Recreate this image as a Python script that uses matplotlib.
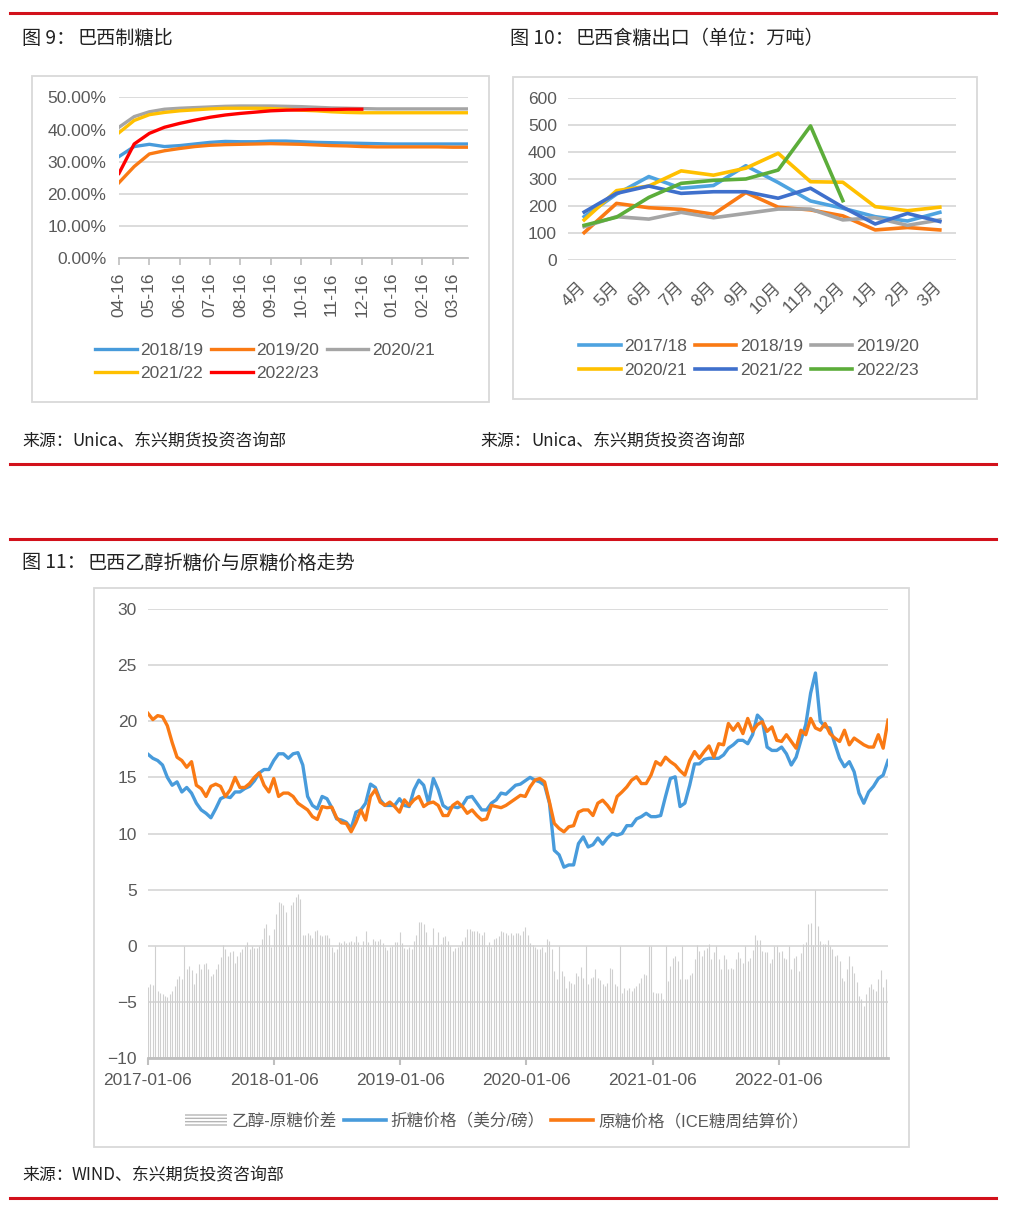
import matplotlib
matplotlib.use('Agg')
import matplotlib.pyplot as plt
from matplotlib.patches import Rectangle, Patch
from matplotlib.lines import Line2D
import pandas as pd

W, H = 1016, 1212
plt.rcParams['font.family'] = ['Liberation Sans', 'Noto Sans CJK SC', 'DejaVu Sans']

GRAY_TXT = '#595959'
GRID = '#d9d9d9'
AXIS = '#bfbfbf'

# ---- fig 9: Brazil sugar mix (%) ----
ratio_dates = ['04-16', '05-01', '05-16', '06-01', '06-16', '07-01', '07-16', '08-01',
               '08-16', '09-01', '09-16', '10-01', '10-16', '11-01', '11-16', '12-01',
               '12-16', '01-01', '01-16', '02-01', '02-16', '03-01', '03-16', '04-01']
ratio_1819 = [31.6, 34.7, 35.4, 34.7, 35.0, 35.5, 36.0, 36.3, 36.2, 36.2, 36.4, 36.4,
              36.2, 36.0, 35.9, 35.8, 35.7, 35.6, 35.5, 35.5, 35.5, 35.5, 35.5, 35.5]
ratio_1920 = [23.5, 28.5, 32.4, 33.4, 34.1, 34.7, 35.1, 35.3, 35.4, 35.5, 35.6, 35.5,
              35.4, 35.2, 35.0, 34.9, 34.7, 34.6, 34.6, 34.6, 34.6, 34.6, 34.5, 34.5]
ratio_2021 = [40.7, 44.0, 45.5, 46.3, 46.6, 46.8, 47.0, 47.2, 47.3, 47.3, 47.3, 47.2,
              47.1, 46.9, 46.7, 46.6, 46.5, 46.4, 46.4, 46.4, 46.4, 46.4, 46.4, 46.4]
ratio_2122 = [39.0, 42.8, 44.6, 45.3, 45.8, 46.1, 46.4, 46.6, 46.6, 46.6, 46.5, 46.3,
              46.0, 45.8, 45.5, 45.3, 45.2, 45.2, 45.2, 45.2, 45.2, 45.2, 45.2, 45.2]
ratio_2223 = [26.4, 35.5, 38.8, 40.7, 41.9, 42.9, 43.8, 44.5, 45.0, 45.4, 45.8, 46.0,
              46.1, 46.2, 46.2, 46.3, 46.3]

# ---- fig 10: Brazil sugar exports (10k t) ----
months = ['4月', '5月', '6月', '7月', '8月', '9月', '10月', '11月', '12月', '1月', '2月', '3月']
exp_1718 = [161, 244, 309, 266, 276, 349, 287, 219, 192, 161, 145, 177]
exp_1819 = [102, 210, 194, 188, 170, 250, 196, 186, 164, 112, 121, 112]
exp_1920 = [124, 161, 152, 177, 157, 173, 189, 189, 149, 157, 129, 149]
exp_2021 = [149, 257, 274, 330, 314, 340, 395, 290, 288, 198, 183, 196]
exp_2122 = [178, 247, 274, 247, 253, 253, 229, 266, 196, 134, 173, 143]
exp_2223 = [129, 159, 232, 284, 295, 300, 333, 496, 220]

# ---- fig 11: ethanol-equivalent vs raw sugar price (biweekly lines, weekly spread) ----
ethanol_price = [
    17.06, 16.7, 16.5, 16.1, 15.0, 14.3, 14.6, 13.7, 14.1, 13.6,
    12.7, 12.1, 11.8, 11.4, 12.2, 13.1, 13.3, 13.2, 13.7, 13.7,
    14.0, 14.2, 14.7, 15.4, 15.7, 15.7, 16.5, 17.1, 17.1, 16.7,
    17.1, 17.2, 16.1, 13.3, 12.5, 12.2, 13.3, 13.1, 12.3, 11.3,
    11.2, 11.0, 10.45, 11.9, 12.1, 12.7, 14.4, 14.1, 13.0, 12.5,
    12.5, 12.5, 13.1, 12.5, 12.4, 13.9, 14.75, 14.3, 12.7, 14.9,
    13.9, 12.5, 12.2, 12.4, 12.3, 12.5, 13.2, 13.3, 12.7, 12.1,
    12.1, 12.7, 13.0, 13.6, 13.5, 13.9, 14.3, 14.4, 14.7, 15.0,
    14.75, 14.6, 14.3, 12.7, 8.5, 8.1, 7.0, 7.2, 7.2, 9.1,
    9.7, 8.8, 9.0, 9.6, 9.05, 9.6, 10.0, 9.85, 10.0, 10.7,
    10.7, 11.3, 11.5, 11.8, 11.5, 11.5, 11.6, 13.3, 14.9, 15.05,
    12.4, 12.7, 14.3, 16.2, 16.2, 16.6, 16.7, 16.7, 16.7, 17.0,
    17.6, 17.9, 18.3, 18.3, 18.0, 18.8, 20.55, 20.1, 17.7, 17.4,
    17.4, 17.7, 17.1, 16.1, 16.8, 18.3, 19.7, 22.5, 24.3, 20.0,
    19.5, 19.4, 18.0, 16.7, 15.95, 16.4, 15.5, 13.6, 12.7, 13.7,
    14.2, 14.9, 15.2, 16.5]
raw_price = [
    20.7, 20.15, 20.5, 20.4, 19.6, 18.1, 16.8, 16.5, 15.9, 16.4,
    14.3, 14.0, 13.3, 14.2, 14.4, 14.2, 13.3, 13.9, 15.0, 14.1,
    14.1, 14.45, 15.0, 15.4, 14.3, 13.7, 14.9, 13.3, 13.6, 13.6,
    13.3, 12.7, 12.4, 12.1, 11.5, 11.25, 12.4, 12.3, 12.35, 11.4,
    10.95, 10.9, 10.15, 11.0, 12.1, 11.2, 13.3, 13.9, 12.8, 12.5,
    12.8, 12.4, 11.9, 13.0, 12.5, 13.0, 13.3, 12.4, 12.7, 12.8,
    12.5, 11.6, 11.6, 12.5, 12.8, 12.4, 11.8, 12.1, 11.6, 11.2,
    11.3, 12.5, 12.4, 12.3, 12.5, 12.8, 13.1, 13.4, 13.3, 14.15,
    14.75, 14.9, 14.6, 12.8, 10.9, 10.45, 10.15, 10.6, 10.7, 11.9,
    12.1, 12.1, 11.6, 12.7, 12.97, 12.5, 11.9, 13.3, 13.7, 14.15,
    14.75, 15.05, 14.45, 14.45, 15.2, 16.4, 16.1, 16.8, 16.4, 16.1,
    15.6, 15.2, 16.5, 17.3, 16.7, 17.3, 17.8, 16.8, 18.0, 17.9,
    19.8, 19.2, 19.8, 18.9, 20.25, 19.1, 19.7, 19.95, 19.1, 19.5,
    18.3, 18.2, 18.8, 18.2, 17.6, 19.2, 18.8, 20.25, 19.4, 19.2,
    19.8, 18.9, 18.5, 18.2, 19.2, 17.9, 18.5, 18.2, 17.9, 17.7,
    17.7, 18.8, 17.6, 20.1]
spread = [
    -3.7, -3.4, -3.5, 0.0, -4.0, -4.2, -4.3, -4.5, -4.6, -4.3,
    -4.0, -3.6, -3.0, -2.7, -3.0, 0.0, -2.1, -1.8, -2.2, -3.4,
    -2.4, -1.6, -2.1, -1.6, -1.5, -2.1, -2.7, -2.5, -2.1, -1.6,
    -1.0, 0.1, -0.3, -0.9, -0.6, -0.45, -1.5, -0.9, -0.6, -0.3,
    -0.06, 0.35, -0.3, -0.06, -0.2, -0.2, 0.0, 0.6, 1.6, 1.9,
    1.0, -0.15, 1.5, 2.8, 3.9, 3.8, 3.6, 3.0, 0.0, 3.6,
    3.9, 4.3, 4.6, 4.2, 1.0, 1.0, 1.1, 1.0, 0.7, 1.3,
    1.4, 1.0, 0.9, 0.95, 1.0, 0.7, -0.15, -0.6, -0.3, 0.3,
    0.25, 0.45, 0.25, 0.35, 0.45, 0.35, 0.9, 0.35, -0.15, 0.45,
    1.3, 0.3, -0.06, 0.6, 0.45, 0.45, 0.6, 0.25, -0.15, -0.35,
    -0.15, 0.0, 0.35, 0.35, 1.2, 0.25, -0.2, -0.3, -0.15, -0.3,
    0.45, 1.0, 2.1, 2.1, 1.9, 1.2, 0.0, -0.15, 1.6, 0.05,
    1.25, 0.15, 0.75, 0.9, 0.45, 0.0, -0.45, -0.2, -0.15, -0.05,
    0.45, 0.75, 1.5, 1.5, 1.35, 1.35, 1.35, 1.1, 1.0, 1.2,
    0.0, 0.3, -0.15, 0.6, 0.65, 0.9, 1.35, 1.25, 1.1, 1.0,
    1.15, 1.0, 1.15, 1.15, 1.0, 1.3, 1.7, 1.0, 0.25, 0.05,
    -0.1, -0.25, -0.3, -0.1, -0.55, 0.6, 0.4, -0.3, -2.25, -3.0,
    0.0, -2.25, -2.7, -3.75, -3.1, -3.3, -3.4, -2.4, -2.7, -1.9,
    -2.85, 0.0, -3.45, -2.85, -2.75, -2.05, -2.85, -3.05, -3.45, -3.6,
    -3.3, -1.95, -2.1, -3.45, -3.6, 0.0, -4.25, -3.75, -3.9, -3.75,
    -4.05, -3.75, -3.6, -3.3, -2.85, -2.55, -2.65, 0.0, 0.0, -4.15,
    -4.25, -4.25, -4.25, -4.7, 0.0, -3.15, -1.8, -1.05, -0.9, -1.35,
    -3.0, 0.0, -3.0, -3.0, -2.65, -2.45, -1.2, 0.1, -0.5, -0.95,
    -0.35, -0.2, 0.2, -1.2, -0.6, 0.0, -1.15, -2.1, -0.85, -1.2,
    -2.1, -1.95, -2.05, -1.15, -0.6, -1.05, -1.55, 0.0, -1.4, -1.05,
    -0.35, 1.0, 0.55, 0.55, -0.5, -0.55, -0.6, -1.55, -1.2, 0.0,
    0.0, -0.55, -0.5, -1.05, -1.15, 0.0, -2.1, -1.05, -0.9, -2.25,
    -0.65, 0.2, 0.35, 1.9, 2.0, 0.1, 5.0, 1.8, 0.4, 0.2,
    0.2, 0.5, 0.0, -0.25, -0.9, -0.85, -1.35, -2.9, -3.1, -2.05,
    -0.95, -1.8, -2.4, -3.2, -4.45, -4.75, -5.4, -4.3, -3.7, -3.4,
    -3.85, -4.0, -2.95, -2.2, -3.7, -2.95, -4.0]
year_ticks = ['2017-01-06', '2018-01-06', '2019-01-06', '2020-01-06', '2021-01-06', '2022-01-06']

line_dates = pd.date_range('2017-01-06', periods=len(ethanol_price), freq='14D')
bar_dates = pd.date_range('2017-01-06', periods=len(spread), freq='7D')


def rect(x0, y0, x1, y1):
    return [x0 / W, 1 - y1 / H, (x1 - x0) / W, (y1 - y0) / H]


def box(x0, y0, x1, y1):
    fig.add_artist(Rectangle((x0 / W, 1 - y1 / H), (x1 - x0) / W, (y1 - y0) / H,
                             transform=fig.transFigure, fill=False, edgecolor=GRID, lw=1.3))


def hline(y):
    fig.add_artist(Line2D([10 / W, 996 / W], [1 - y / H] * 2, transform=fig.transFigure,
                          color='#d2111b', lw=2.2))


def ftext(x, y, s, size=13.8):
    fig.text(x / W, 1 - y / H, s, fontsize=size, va='center', ha='left', color='#222222',
             family=['Noto Sans CJK SC', 'DejaVu Sans'])


def style_ax(ax):
    for s in ['top', 'right', 'left']:
        ax.spines[s].set_visible(False)
    ax.grid(axis='y', color=GRID, lw=1.3)
    ax.set_axisbelow(True)
    ax.tick_params(colors=GRAY_TXT, labelsize=12.5)


fig = plt.figure(figsize=(W / 100, H / 100), dpi=100)

# frame decorations
for y in [13, 464, 539, 1198]:
    hline(y)
box(32, 76, 489, 402)
box(513, 77, 977, 399)
box(94, 588, 909, 1147)

ftext(22, 38, '图 9：')
ftext(78, 38, '巴西制糖比')
ftext(510, 38, '图 10：')
ftext(576, 38, '巴西食糖出口（单位：万吨）')
ftext(22, 563, '图 11：')
ftext(88, 563, '巴西乙醇折糖价与原糖价格走势')
ftext(22, 441, '来源：', 12.2)
ftext(72, 441, 'Unica、东兴期货投资咨询部', 12.2)
ftext(480, 441, '来源：', 12.2)
ftext(531, 441, 'Unica、东兴期货投资咨询部', 12.2)
ftext(22, 1175, '来源：', 12.2)
ftext(72, 1175, 'WIND、东兴期货投资咨询部', 12.2)

# ---- fig 9 ----
ax1 = fig.add_axes(rect(119, 97.3, 468, 258.3))
style_ax(ax1)
ax1.spines['bottom'].set_color(AXIS)
ax1.spines['bottom'].set_linewidth(1.3)
series9 = [('2018/19', ratio_1819, '#489bdb'), ('2019/20', ratio_1920, '#fa7a14'),
           ('2020/21', ratio_2021, '#a5a5a5'), ('2021/22', ratio_2122, '#ffc000'),
           ('2022/23', ratio_2223, '#ff0000')]
h9 = []
for name, vals, c in series9:
    h9 += ax1.plot(range(len(vals)), vals, color=c, lw=2.4, label=name,
                   solid_joinstyle='round')
ax1.set_xlim(0, len(ratio_dates) - 1)
ax1.set_ylim(0, 50)
ax1.set_yticks(range(0, 51, 10), [f'{v:.2f}%' for v in range(0, 51, 10)])
ax1.set_xticks(range(0, len(ratio_dates), 2), ratio_dates[::2], rotation=90)
ax1.tick_params(axis='y', length=0, pad=9)
ax1.tick_params(axis='x', length=5, color=AXIS, width=1.2, pad=5)
order = [0, 3, 1, 4, 2]
fig.legend([h9[i] for i in order], [series9[i][0] for i in order], loc='center left',
           bbox_to_anchor=(95 / W, 1 - 362 / H), ncol=3, frameon=False, fontsize=12.5,
           handlelength=2.4, handletextpad=0.2, columnspacing=0.45, borderpad=0,
           borderaxespad=0, labelcolor=GRAY_TXT)

# ---- fig 10 ----
ax2 = fig.add_axes(rect(568, 97.7, 956, 260.3))
style_ax(ax2)
ax2.spines['bottom'].set_visible(False)
series10 = [('2017/18', exp_1718, '#4ea3e0'), ('2018/19', exp_1819, '#fa7a14'),
            ('2019/20', exp_1920, '#a5a5a5'), ('2020/21', exp_2021, '#ffc000'),
            ('2021/22', exp_2122, '#3f70cc'), ('2022/23', exp_2223, '#5cad3a')]
h10 = []
for name, vals, c in series10:
    h10 += ax2.plot(range(len(vals)), vals, color=c, lw=2.6, label=name,
                    solid_joinstyle='round')
ax2.set_xlim(-0.5, len(months) - 0.5)
ax2.set_ylim(0, 600)
ax2.set_yticks(range(0, 601, 100))
ax2.set_xticks(range(len(months)), months, rotation=45, ha='right', va='center',
               rotation_mode='anchor')
ax2.tick_params(axis='y', length=0, pad=8)
ax2.tick_params(axis='x', length=0, pad=18)
order = [0, 3, 1, 4, 2, 5]
fig.legend([h10[i] for i in order], [series10[i][0] for i in order], loc='center left',
           bbox_to_anchor=(579 / W, 1 - 358.5 / H), ncol=3, frameon=False, fontsize=12.5,
           handlelength=2.4, handletextpad=0.2, columnspacing=0.45, borderpad=0,
           borderaxespad=0, labelcolor=GRAY_TXT)

# ---- fig 11 ----
ax3 = fig.add_axes(rect(148, 609, 888, 1058))
style_ax(ax3)
ax3.spines['bottom'].set_color(AXIS)
ax3.spines['bottom'].set_linewidth(2)
ax3.vlines(bar_dates, -10, spread, color='#cfcfcf', lw=0.8, zorder=1)
ax3.plot(line_dates, ethanol_price, color='#489bdb', lw=2.4, zorder=3,
         solid_joinstyle='round')
ax3.plot(line_dates, raw_price, color='#fa7a14', lw=2.4, zorder=4,
         solid_joinstyle='round')
ax3.set_xlim(bar_dates[0], bar_dates[-1])
ax3.set_ylim(-10, 30)
ax3.set_yticks(range(-10, 31, 5))
ax3.set_xticks(pd.to_datetime(year_ticks), year_ticks)
ax3.tick_params(axis='y', length=0, pad=8)
ax3.tick_params(axis='x', length=5, color=AXIS, width=1.5, pad=6)

leg_handles = [Patch(facecolor='white', edgecolor='#b5b5b5', hatch='-----', lw=0),
               Line2D([], [], color='#489bdb', lw=2.6),
               Line2D([], [], color='#fa7a14', lw=2.6)]
leg_labels = ['乙醇-原糖价差', '折糖价格（美分/磅）', '原糖价格（ICE糖周结算价）']
fig.legend(leg_handles, leg_labels, loc='center', bbox_to_anchor=(497 / W, 1 - 1121 / H),
           ncol=3, frameon=False, fontsize=12, handlelength=2.5, handletextpad=0.3,
           columnspacing=0.4, borderpad=0, borderaxespad=0, labelcolor=GRAY_TXT)

fig.savefig('out.png', dpi=100)
